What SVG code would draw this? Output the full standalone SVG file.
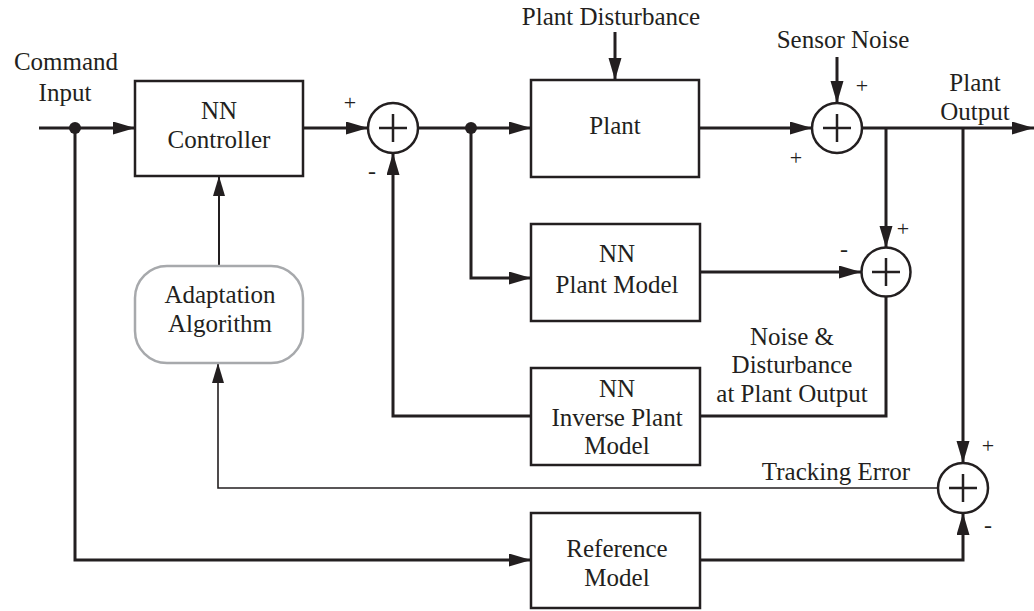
<svg xmlns="http://www.w3.org/2000/svg" width="1034" height="611" viewBox="0 0 1034 611">
<style>
  .box{fill:#fff;stroke:#231f20;stroke-width:2.5}
  .rbox{fill:#fff;stroke:#a7a9ac;stroke-width:2.5}
  .sum{fill:#fff;stroke:#231f20;stroke-width:2.5}
  .plus{stroke:#231f20;stroke-width:2.5;fill:none}
  .w{fill:none;stroke:#231f20;stroke-width:3}
  .t{fill:none;stroke:#231f20;stroke-width:2}
  .tt{fill:none;stroke:#231f20;stroke-width:1.6}
</style>
<defs>
  <marker id="ah" markerUnits="userSpaceOnUse" markerWidth="22" markerHeight="14" refX="22" refY="6.5" orient="auto">
    <path d="M0,0 L22,6.5 L0,13 z" fill="#231f20"/>
  </marker>
  <marker id="ahs" markerUnits="userSpaceOnUse" markerWidth="20" markerHeight="12" refX="20" refY="6" orient="auto">
    <path d="M0,0 L20,6 L0,12 z" fill="#231f20"/>
  </marker>
</defs>

<g id="connectors">
  <path class="w" d="M39,128 H135" marker-end="url(#ah)"/>
  <path class="w" d="M75,128 V560 H531" marker-end="url(#ah)"/>
  <path class="w" d="M303,128 H368" marker-end="url(#ah)"/>
  <path class="w" d="M418,128 H531" marker-end="url(#ah)"/>
  <path class="w" d="M471,128 V278 H531" marker-end="url(#ah)"/>
  <path class="w" d="M615,32 V80" marker-end="url(#ah)"/>
  <path class="w" d="M699,128 H812" marker-end="url(#ah)"/>
  <path class="w" d="M837,57 V103" marker-end="url(#ah)"/>
  <path class="w" d="M862,128 H1034" marker-end="url(#ah)"/>
  <path class="w" d="M886,128 V248" marker-end="url(#ah)"/>
  <path class="w" d="M700,272 H861" marker-end="url(#ah)"/>
  <path class="w" d="M886,297 V416 H700"/>
  <path class="w" d="M531,416 H393 V153" marker-end="url(#ah)"/>
  <path class="w" d="M963,128 V463" marker-end="url(#ah)"/>
  <path class="w" d="M700,560 H963 V513" marker-end="url(#ah)"/>
  <path class="tt" d="M938,488 H218 V363" marker-end="url(#ahs)"/>
  <path class="t" d="M219,266 V176" marker-end="url(#ahs)"/>
  <circle cx="75" cy="128" r="6" fill="#231f20"/>
  <circle cx="471" cy="128" r="6" fill="#231f20"/>
</g>

<g id="labels" font-family="Times New Roman, Liberation Serif, serif" font-size="25" fill="#231f20" text-anchor="middle">
  <text x="66" y="70">Command</text>
  <text x="65" y="101">Input</text>
  <text x="611" y="25">Plant Disturbance</text>
  <text x="843" y="48">Sensor Noise</text>
  <text x="975" y="91">Plant</text>
  <text x="975" y="120">Output</text>
  <text x="792" y="345">Noise &amp;</text>
  <text x="792" y="373">Disturbance</text>
  <text x="792" y="402">at Plant Output</text>
  <text x="836" y="480">Tracking Error</text>
  <text x="350" y="110" font-size="22">+</text>
  <text x="372" y="179" font-size="24">-</text>
  <text x="862" y="93" font-size="22">+</text>
  <text x="796" y="165" font-size="22">+</text>
  <text x="903" y="236" font-size="22">+</text>
  <text x="844" y="257" font-size="24">-</text>
  <text x="988" y="453" font-size="22">+</text>
  <text x="988" y="533" font-size="24">-</text>
</g>

<g id="nn-controller" font-family="Times New Roman, Liberation Serif, serif" font-size="25" fill="#231f20" text-anchor="middle">
  <rect class="box" x="135" y="81" width="168" height="95"/>
  <text x="219" y="119">NN</text>
  <text x="219" y="148">Controller</text>
</g>

<g id="sum1">
  <circle class="sum" cx="393" cy="128" r="25"/>
  <path class="plus" d="M379,128 H407 M393,114 V142"/>
</g>

<g id="plant" font-family="Times New Roman, Liberation Serif, serif" font-size="25" fill="#231f20" text-anchor="middle">
  <rect class="box" x="531" y="80" width="168" height="97"/>
  <text x="615" y="134">Plant</text>
</g>

<g id="sum2">
  <circle class="sum" cx="837" cy="128" r="25"/>
  <path class="plus" d="M823,128 H851 M837,114 V142"/>
</g>

<g id="nn-plant-model" font-family="Times New Roman, Liberation Serif, serif" font-size="25" fill="#231f20" text-anchor="middle">
  <rect class="box" x="531" y="224" width="169" height="97"/>
  <text x="617" y="262">NN</text>
  <text x="617" y="293">Plant Model</text>
</g>

<g id="sum3">
  <circle class="sum" cx="886" cy="272" r="24.5"/>
  <path class="plus" d="M872,272 H900 M886,258 V286"/>
</g>

<g id="adaptation-algorithm" font-family="Times New Roman, Liberation Serif, serif" font-size="25" fill="#231f20" text-anchor="middle">
  <rect class="rbox" x="135" y="266" width="168" height="97" rx="32" ry="32"/>
  <text x="220" y="303">Adaptation</text>
  <text x="220" y="332">Algorithm</text>
</g>

<g id="nn-inverse-plant-model" font-family="Times New Roman, Liberation Serif, serif" font-size="25" fill="#231f20" text-anchor="middle">
  <rect class="box" x="531" y="368" width="169" height="97"/>
  <text x="617" y="397">NN</text>
  <text x="617" y="426">Inverse Plant</text>
  <text x="617" y="454">Model</text>
</g>

<g id="sum4">
  <circle class="sum" cx="963" cy="488" r="25"/>
  <path class="plus" d="M949,488 H977 M963,474 V502"/>
</g>

<g id="reference-model" font-family="Times New Roman, Liberation Serif, serif" font-size="25" fill="#231f20" text-anchor="middle">
  <rect class="box" x="531" y="513" width="169" height="95"/>
  <text x="617" y="557">Reference</text>
  <text x="617" y="586">Model</text>
</g>
</svg>
